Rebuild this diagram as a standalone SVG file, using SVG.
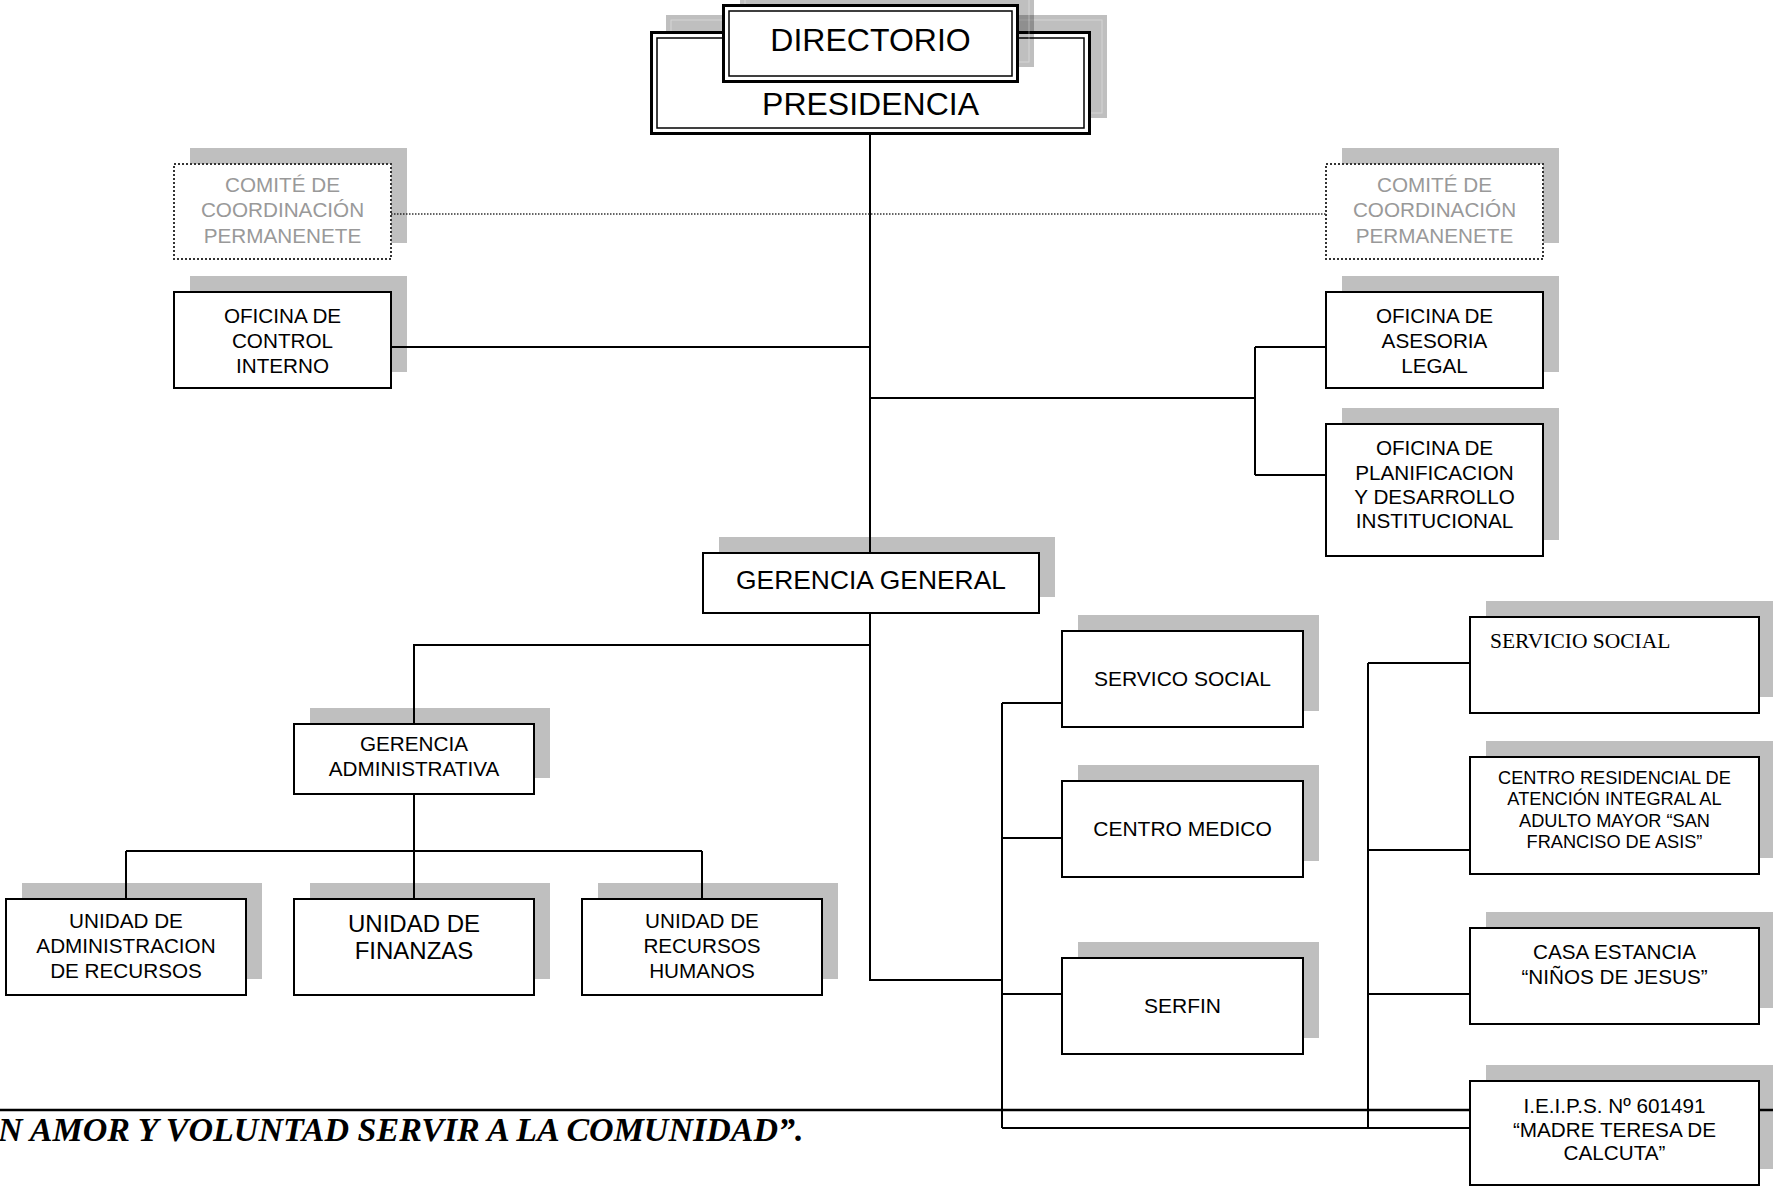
<svg xmlns="http://www.w3.org/2000/svg" width="1773" height="1187" viewBox="0 0 1773 1187">
<style>
.sh{fill:#000;fill-opacity:.25}
.box{fill:#fff;stroke:#000;stroke-width:2}
.dot{fill:#fff;stroke:#333;stroke-width:2;stroke-dasharray:2 2}
.ln{stroke:#000;stroke-width:2;fill:none}
.t{font-family:"Liberation Sans",Arial,sans-serif;font-size:20.7px;text-anchor:middle;fill:#000}
.g{fill:#999}
.shin{fill:none;stroke:#fff;stroke-opacity:.35;stroke-width:1}
</style>
<rect width="1773" height="1187" fill="#fff"/>
<g id="connectors">
<path class="ln" d="M870 135V553M391 347H870M870 398H1255M1255 347V475M1255 347H1326M1255 475H1326"/>
<path d="M391 214H1326" stroke="#333" stroke-width="1.5" stroke-dasharray="1.5 1.5" fill="none"/>
<path class="ln" d="M870 613V980H1002M870 645H414V724M414 794V851M126 851H702M126 851V899M414 851V899M702 851V899"/>
<path class="ln" d="M1002 703V1128M1002 703H1062M1002 838H1062M1002 994H1062"/>
<path class="ln" d="M1368 663V1128M1368 663H1470M1368 850H1470M1368 994H1470M1002 1128H1470"/>
<path d="M0 1110H1773" stroke="#000" stroke-width="2.5"/>
</g>
<g id="presidencia">
<rect class="sh" x="666" y="15" width="441" height="103"/>
<rect class="shin" x="671" y="20" width="431" height="93"/>
<rect x="651.5" y="32.5" width="438" height="101" fill="#fff" stroke="#000" stroke-width="3"/>
<rect x="657" y="38" width="427" height="90" fill="none" stroke="#000" stroke-width="1.5"/>
<text class="t" x="870.5" y="115" style="font-size:32px">PRESIDENCIA</text>
</g>
<g id="directorio">
<rect class="sh" x="740" y="-12" width="294" height="79"/>
<rect class="shin" x="745" y="-7" width="284" height="69"/>
<rect x="723.5" y="5.5" width="294" height="76" fill="#fff" stroke="#000" stroke-width="3"/>
<rect x="729" y="11" width="283" height="65" fill="none" stroke="#000" stroke-width="1.5"/>
<text class="t" x="870.5" y="51" style="font-size:32px">DIRECTORIO</text>
</g>
<g id="comite-izq">
<rect class="sh" x="190" y="148" width="217" height="95"/>
<rect class="dot" x="174" y="164" width="217" height="95"/>
<text class="t g" x="282.5" y="192">COMITÉ DE</text>
<text class="t g" x="282.5" y="217">COORDINACIÓN</text>
<text class="t g" x="282.5" y="243">PERMANENETE</text>
</g>
<g id="control-interno">
<rect class="sh" x="190" y="276" width="217" height="96"/>
<rect class="box" x="174" y="292" width="217" height="96"/>
<text class="t" x="282.5" y="323">OFICINA DE</text>
<text class="t" x="282.5" y="348">CONTROL</text>
<text class="t" x="282.5" y="373">INTERNO</text>
</g>
<g id="comite-der">
<rect class="sh" x="1342" y="148" width="217" height="95"/>
<rect class="dot" x="1326" y="164" width="217" height="95"/>
<text class="t g" x="1434.5" y="192">COMITÉ DE</text>
<text class="t g" x="1434.5" y="217">COORDINACIÓN</text>
<text class="t g" x="1434.5" y="243">PERMANENETE</text>
</g>
<g id="asesoria-legal">
<rect class="sh" x="1342" y="276" width="217" height="96"/>
<rect class="box" x="1326" y="292" width="217" height="96"/>
<text class="t" x="1434.5" y="323">OFICINA DE</text>
<text class="t" x="1434.5" y="348">ASESORIA</text>
<text class="t" x="1434.5" y="373">LEGAL</text>
</g>
<g id="planificacion">
<rect class="sh" x="1342" y="408" width="217" height="132"/>
<rect class="box" x="1326" y="424" width="217" height="132"/>
<text class="t" x="1434.5" y="455">OFICINA DE</text>
<text class="t" x="1434.5" y="480">PLANIFICACION</text>
<text class="t" x="1434.5" y="504">Y DESARROLLO</text>
<text class="t" x="1434.5" y="528">INSTITUCIONAL</text>
</g>
<g id="gerencia-general">
<rect class="sh" x="719" y="537" width="336" height="60"/>
<rect class="box" x="703" y="553" width="336" height="60"/>
<text class="t" x="871" y="589" style="font-size:26.4px">GERENCIA GENERAL</text>
</g>
<g id="gerencia-administrativa">
<rect class="sh" x="310" y="708" width="240" height="70"/>
<rect class="box" x="294" y="724" width="240" height="70"/>
<text class="t" x="414" y="751">GERENCIA</text>
<text class="t" x="414" y="776">ADMINISTRATIVA</text>
</g>
<g id="unidad-administracion">
<rect class="sh" x="22" y="883" width="240" height="96"/>
<rect class="box" x="6" y="899" width="240" height="96"/>
<text class="t" x="126" y="928">UNIDAD DE</text>
<text class="t" x="126" y="953">ADMINISTRACION</text>
<text class="t" x="126" y="978">DE RECURSOS</text>
</g>
<g id="unidad-finanzas">
<rect class="sh" x="310" y="883" width="240" height="96"/>
<rect class="box" x="294" y="899" width="240" height="96"/>
<text class="t" x="414" y="932" style="font-size:24px">UNIDAD DE</text>
<text class="t" x="414" y="959" style="font-size:24px">FINANZAS</text>
</g>
<g id="unidad-rrhh">
<rect class="sh" x="598" y="883" width="240" height="96"/>
<rect class="box" x="582" y="899" width="240" height="96"/>
<text class="t" x="702" y="928">UNIDAD DE</text>
<text class="t" x="702" y="953">RECURSOS</text>
<text class="t" x="702" y="978">HUMANOS</text>
</g>
<g id="servico-social">
<rect class="sh" x="1078" y="615" width="241" height="96"/>
<rect class="box" x="1062" y="631" width="241" height="96"/>
<text class="t" x="1182.5" y="686" style="font-size:21px">SERVICO SOCIAL</text>
</g>
<g id="centro-medico">
<rect class="sh" x="1078" y="765" width="241" height="96"/>
<rect class="box" x="1062" y="781" width="241" height="96"/>
<text class="t" x="1182.5" y="836" style="font-size:21px">CENTRO MEDICO</text>
</g>
<g id="serfin">
<rect class="sh" x="1078" y="942" width="241" height="96"/>
<rect class="box" x="1062" y="958" width="241" height="96"/>
<text class="t" x="1182.5" y="1013" style="font-size:21px">SERFIN</text>
</g>
<g id="servicio-social">
<rect class="sh" x="1486" y="601" width="289" height="96"/>
<rect class="box" x="1470" y="617" width="289" height="96"/>
<text x="1490" y="648" style="font-family:'Liberation Serif','Times New Roman',serif;font-size:21.5px">SERVICIO SOCIAL</text>
</g>
<g id="centro-residencial">
<rect class="sh" x="1486" y="741" width="289" height="117"/>
<rect class="box" x="1470" y="757" width="289" height="117"/>
<text class="t" x="1614.5" y="784" style="font-size:18.2px">CENTRO RESIDENCIAL DE</text>
<text class="t" x="1614.5" y="805" style="font-size:18.2px">ATENCIÓN INTEGRAL AL</text>
<text class="t" x="1614.5" y="827" style="font-size:18.2px">ADULTO MAYOR “SAN</text>
<text class="t" x="1614.5" y="848" style="font-size:18.2px">FRANCISO DE ASIS”</text>
</g>
<g id="casa-estancia">
<rect class="sh" x="1486" y="912" width="289" height="96"/>
<rect class="box" x="1470" y="928" width="289" height="96"/>
<text class="t" x="1614.5" y="959">CASA ESTANCIA</text>
<text class="t" x="1614.5" y="984">“NIÑOS DE JESUS”</text>
</g>
<g id="ieips">
<rect class="sh" x="1486" y="1065" width="289" height="104"/>
<rect class="box" x="1470" y="1081" width="289" height="104"/>
<text class="t" x="1614.5" y="1113">I.E.I.P.S. Nº 601491</text>
<text class="t" x="1614.5" y="1137">“MADRE TERESA DE</text>
<text class="t" x="1614.5" y="1160">CALCUTA”</text>
</g>
<text x="-2" y="1141" style="font-family:'Liberation Serif','Times New Roman',serif;font-size:34px;font-weight:bold;font-style:italic">N AMOR Y VOLUNTAD SERVIR A LA COMUNIDAD”.</text>
</svg>
